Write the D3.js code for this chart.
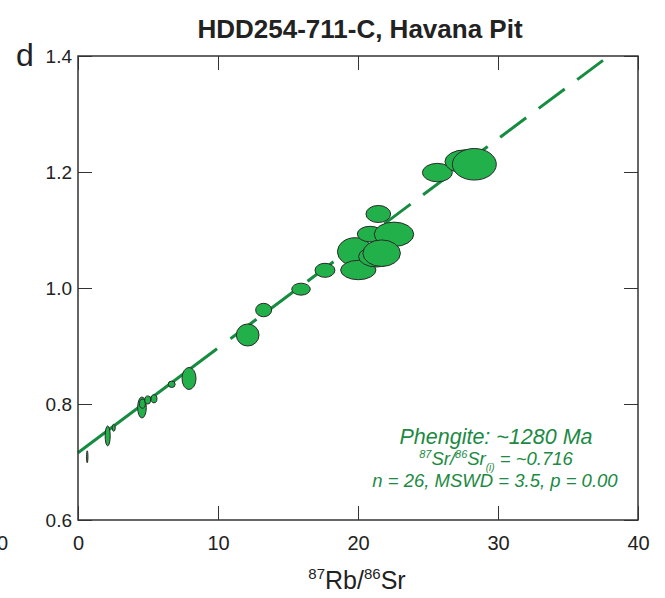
<!DOCTYPE html>
<html>
<head>
<meta charset="utf-8">
<script src="https://cdn.jsdelivr.net/npm/d3@7"></script>
<style>
  body { margin: 0; background: #fff; }
  svg { display: block; font-family: "Liberation Sans", Arial, sans-serif; }
</style>
</head>
<body>
<svg id="chart" width="665" height="598"></svg>
<script>
// 87Rb/86Sr vs 87Sr/86Sr, phengite isochron
const rbsr  = [0.66, 2.12, 2.55, 4.57, 4.60, 4.98, 5.43, 6.69, 7.93, 12.12, 13.26, 15.93, 17.64,
               19.79, 20.02, 21.45, 20.86, 22.57, 21.33, 21.69, 25.67, 27.64, 28.31];
const srsr  = [0.709, 0.745, 0.759, 0.794, 0.8005, 0.807, 0.809, 0.834, 0.844, 0.919, 0.962, 0.998, 1.0305,
               1.0626, 1.031, 1.1276, 1.093, 1.0926, 1.054, 1.060, 1.199, 1.218, 1.2133];
// half-axes of error ellipses (data units)
const errX  = [0.05, 0.18, 0.11, 0.31, 0.21, 0.21, 0.21, 0.25, 0.50, 0.81, 0.57, 0.66, 0.71,
               1.26, 1.26, 0.88, 0.91, 1.41, 1.29, 1.34, 1.07, 1.43, 1.57];
const errY  = [0.0103, 0.0172, 0.0060, 0.0181, 0.0078, 0.0069, 0.0069, 0.0055, 0.0190, 0.0190, 0.0116, 0.0103, 0.0121,
               0.0241, 0.0167, 0.0147, 0.0134, 0.0210, 0.0178, 0.0229, 0.0159, 0.0202, 0.0272];

const xTicks = [0, 10, 20, 30, 40];
const yTicks = [0.6, 0.8, 1.0, 1.2, 1.4];

// isochron fit
const intercept = 0.716;
const slope = 0.01804;
const solidEnd = 9.93, dashStart = 10.89, lineEnd = 37.5;

const green = '#22b04b';
const lineGreen = '#168c41';
const textGreen = '#1c8a43';

const margin = { top: 56, right: 27, bottom: 78, left: 78 };
const svg = d3.select('#chart');
const width = +svg.attr('width') - margin.left - margin.right;
const height = +svg.attr('height') - margin.top - margin.bottom;

const x = d3.scaleLinear().domain([0, 40]).range([margin.left, margin.left + width]);
const y = d3.scaleLinear().domain([0.6, 1.4]).range([margin.top + height, margin.top]);

// title and panel letter
svg.append('text')
  .attr('x', 360).attr('y', 38)
  .attr('text-anchor', 'middle')
  .attr('font-size', 26).attr('font-weight', 'bold').attr('fill', '#222')
  .text('HDD254-711-C, Havana Pit');

svg.append('text')
  .attr('x', 16).attr('y', 66)
  .attr('font-size', 32).attr('fill', '#222')
  .text('d');

// leftover label from neighbouring panel
svg.append('text')
  .attr('x', 8).attr('y', 550)
  .attr('text-anchor', 'end')
  .attr('font-size', 20).attr('fill', '#222')
  .text('0');

// isochron line
const fit = v => intercept + slope * v;
svg.append('line')
  .attr('x1', x(0)).attr('y1', y(fit(0)))
  .attr('x2', x(solidEnd)).attr('y2', y(fit(solidEnd)))
  .attr('stroke', lineGreen).attr('stroke-width', 3);
svg.append('line')
  .attr('x1', x(dashStart)).attr('y1', y(fit(dashStart)))
  .attr('x2', x(lineEnd)).attr('y2', y(fit(lineEnd)))
  .attr('stroke', lineGreen).attr('stroke-width', 3)
  .attr('stroke-dasharray', '32.5,15.6');

// error ellipses
svg.append('g')
  .selectAll('ellipse')
  .data(rbsr.map((d, i) => ({ x: d, y: srsr[i], ex: errX[i], ey: errY[i] })))
  .enter().append('ellipse')
  .attr('cx', d => x(d.x))
  .attr('cy', d => y(d.y))
  .attr('rx', d => x(d.x + d.ex) - x(d.x))
  .attr('ry', d => y(d.y) - y(d.y + d.ey))
  .attr('fill', green)
  .attr('stroke', '#2a2a2a')
  .attr('stroke-width', 1);

// frame
svg.append('rect')
  .attr('x', x(0)).attr('y', y(1.4))
  .attr('width', x(40) - x(0)).attr('height', y(0.6) - y(1.4))
  .attr('fill', 'none').attr('stroke', '#333').attr('stroke-width', 1.5);

const tickLen = 14;
// inward ticks on all sides
svg.append('g')
  .attr('transform', 'translate(0,' + y(0.6) + ')')
  .call(d3.axisBottom(x).tickValues(xTicks).tickSize(-tickLen).tickPadding(16).tickFormat(d3.format('d')))
  .call(g => g.select('.domain').remove())
  .call(g => g.selectAll('line').attr('stroke', '#333'))
  .call(g => g.selectAll('text').attr('font-size', 20).attr('fill', '#222').attr('font-family', null));

svg.append('g')
  .attr('transform', 'translate(0,' + y(1.4) + ')')
  .call(d3.axisTop(x).tickValues(xTicks).tickSize(-tickLen).tickFormat(''))
  .call(g => g.select('.domain').remove())
  .call(g => g.selectAll('line').attr('stroke', '#333'));

svg.append('g')
  .attr('transform', 'translate(' + x(0) + ',0)')
  .call(d3.axisLeft(y).tickValues(yTicks).tickSize(-tickLen).tickPadding(6).tickFormat(d3.format('.1f')))
  .call(g => g.select('.domain').remove())
  .call(g => g.selectAll('line').attr('stroke', '#333'))
  .call(g => g.selectAll('text').attr('font-size', 19).attr('fill', '#222').attr('font-family', null));

svg.append('g')
  .attr('transform', 'translate(' + x(40) + ',0)')
  .call(d3.axisRight(y).tickValues(yTicks).tickSize(-tickLen).tickFormat(''))
  .call(g => g.select('.domain').remove())
  .call(g => g.selectAll('line').attr('stroke', '#333'));

// x axis title
const xt = svg.append('text')
  .attr('x', 357).attr('y', 589)
  .attr('text-anchor', 'middle')
  .attr('font-size', 25).attr('fill', '#222');
xt.append('tspan').attr('font-size', 15).attr('dy', -10).text('87');
xt.append('tspan').attr('dy', 10).text('Rb/');
xt.append('tspan').attr('font-size', 15).attr('dy', -10).text('86');
xt.append('tspan').attr('dy', 10).text('Sr');

// annotation
const ann = svg.append('g')
  .attr('fill', textGreen)
  .attr('font-style', 'italic')
  .attr('text-anchor', 'middle');
ann.append('text')
  .attr('x', 496).attr('y', 444)
  .attr('font-size', 21.5)
  .text('Phengite: ~1280 Ma');
const l2 = ann.append('text')
  .attr('x', 496).attr('y', 465)
  .attr('font-size', 18.5);
l2.append('tspan').attr('font-size', 11).attr('dy', -7).text('87');
l2.append('tspan').attr('dy', 7).text('Sr/');
l2.append('tspan').attr('font-size', 11).attr('dy', -7).text('86');
l2.append('tspan').attr('dy', 7).text('Sr');
l2.append('tspan').attr('font-size', 10).attr('dy', 6).text('(i)');
l2.append('tspan').attr('dy', -6).text(' = ~0.716');
ann.append('text')
  .attr('x', 495).attr('y', 487)
  .attr('font-size', 18.5)
  .text('n = 26, MSWD = 3.5, p = 0.00');
</script>
</body>
</html>
